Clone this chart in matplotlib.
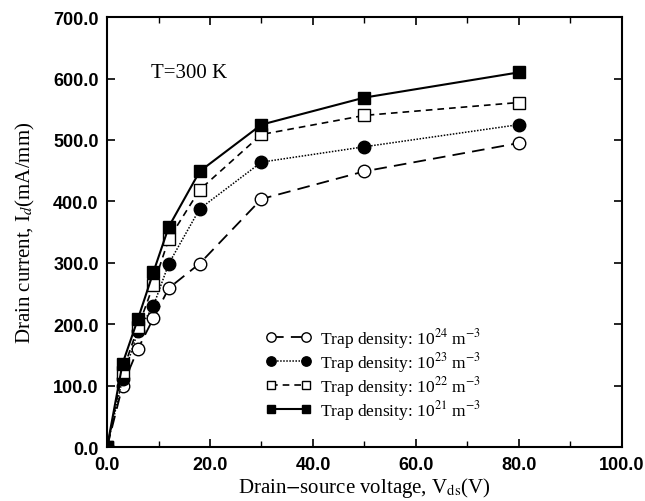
import numpy as np
import matplotlib
matplotlib.use("Agg")
from matplotlib import pyplot as plt
from matplotlib.ticker import MultipleLocator

plt.rcParams['mathtext.fontset'] = 'stix'

# data
vds = [0, 3, 6, 9, 12, 18, 30, 50, 80]
id_1e24 = [0, 100, 160, 210, 259, 299, 404, 449, 495]
id_1e23 = [0, 111, 189, 230, 299, 388, 464, 489, 525]
id_1e22 = [0, 123, 195, 264, 339, 419, 509, 540, 561]
id_1e21 = [0, 136, 209, 285, 359, 449, 525, 569, 610]

labels = [r'Trap density: 10$^{24}$ m$^{-3}$',
          r'Trap density: 10$^{23}$ m$^{-3}$',
          r'Trap density: 10$^{22}$ m$^{-3}$',
          r'Trap density: 10$^{21}$ m$^{-3}$']

fig = plt.figure(figsize=(6.45, 5.02), dpi=100)
ax = fig.add_axes([0.166, 0.107, 0.798, 0.857])

ms = 9
ax.plot(vds, id_1e24, color='k', lw=1.3, dashes=(7, 4), marker='o', ms=ms,
        mfc='white', mec='k', mew=1.0, label=labels[0])
ax.plot(vds, id_1e23, color='k', lw=1.1, dashes=(1, 1), marker='o', ms=ms,
        mfc='k', mec='k', label=labels[1])
ax.plot(vds, id_1e22, color='k', lw=1.2, dashes=(4, 3), marker='s', ms=ms - 0.5,
        mfc='white', mec='k', mew=1.0, label=labels[2])
ax.plot(vds, id_1e21, color='k', lw=1.5, ls='-', marker='s', ms=ms - 0.5,
        mfc='k', mec='k', label=labels[3])

ax.set_xlim(0, 100)
ax.set_ylim(0, 700)
ax.xaxis.set_major_locator(MultipleLocator(20))
ax.xaxis.set_minor_locator(MultipleLocator(10))
ax.yaxis.set_major_locator(MultipleLocator(100))
ax.tick_params(which='both', direction='in', top=True, right=True)
ax.tick_params(which='major', length=6, width=1.2, pad=6)
ax.tick_params(which='minor', length=4, width=1.0)
for s in ax.spines.values():
    s.set_linewidth(1.5)

ax.set_xticklabels(['%.1f' % v for v in ax.get_xticks()])
ax.set_yticklabels(['%.1f' % v for v in ax.get_yticks()])
for t in ax.get_xticklabels() + ax.get_yticklabels():
    t.set_fontfamily('Liberation Sans')
    t.set_fontweight('bold')
    t.set_fontsize(13)

ax.set_xlabel(r'Drain$-$source voltage, V$_{\rm ds}$(V)', family='Liberation Serif',
              fontsize=15, labelpad=2)
ax.set_ylabel(r'Drain current, I$_d$(mA/mm)', family='Liberation Serif',
              fontsize=15, labelpad=12)

ax.text(8.5, 610, 'T=300 K', family='Liberation Serif', fontsize=15,
        va='center', ha='left')

leg = ax.legend(loc='upper left', bbox_to_anchor=(0.285, 0.311), frameon=False,
                prop={'family': 'Liberation Serif', 'size': 12.5},
                numpoints=2, markerscale=0.75,
                handlelength=2.6, handletextpad=0.5, labelspacing=0.0,
                borderpad=0.2)

fig.savefig('out.png', dpi=100)
